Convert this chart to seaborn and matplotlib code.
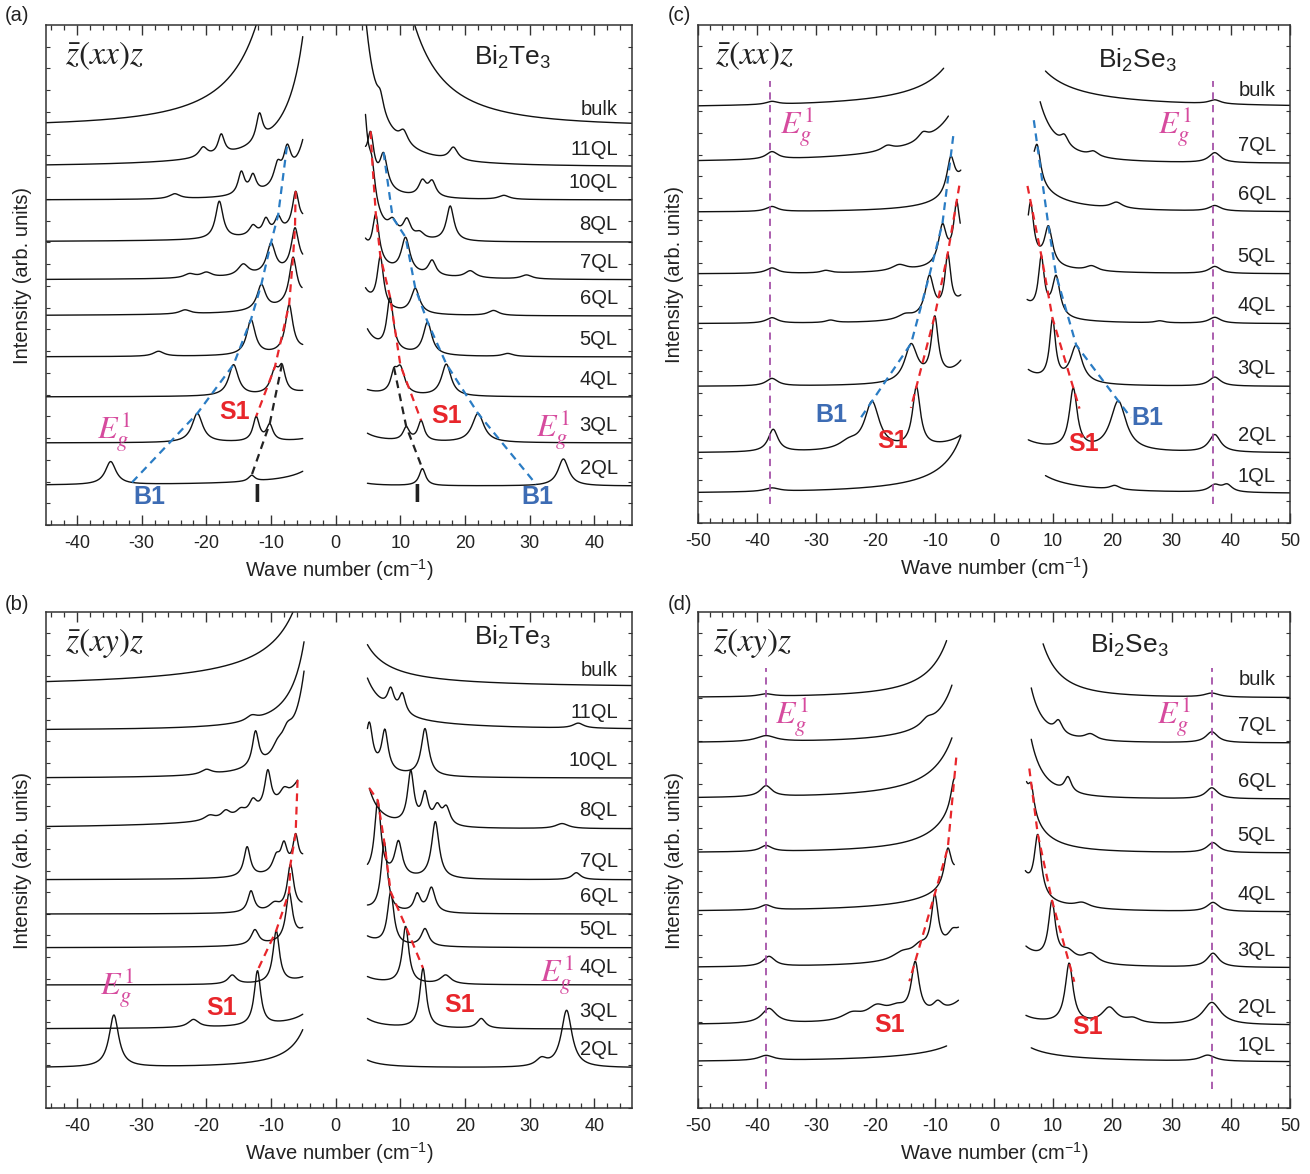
import numpy as np
import pandas as pd
import matplotlib
matplotlib.use("Agg")
import matplotlib.pyplot as plt
import seaborn as sns
from matplotlib.ticker import MultipleLocator

sns.set_theme(style="ticks")
plt.rcParams["font.family"] = ["Liberation Sans", "DejaVu Sans"]
plt.rcParams["axes.unicode_minus"] = False

# ---------------- panel (a): Bi2Te3, z(xx)z ----------------
A_LABELS = ["bulk", "11QL", "10QL", "8QL", "7QL", "6QL", "5QL", "4QL", "3QL", "2QL"]
A_OFFSETS = [79.6, 71.6, 65.0, 56.6, 49.0, 41.8, 33.6, 25.6, 16.4, 7.8]
A_LEFT_END = [-5.2, -5.1, -5.1, -5.1, -5.1, -5.2, -5.1, -5.1, -5.1, -5.1]
A_RIGHT_START = [4.8, 4.6, 4.6, 4.6, 4.6, 4.6, 4.9, 4.9, 4.9, 4.9]
# Rayleigh tail (height at |x|=5, power) for each side
A_TAIL_L = [(185, 2.45), (27, 1.9), (12, 2.5), (4, 1.5), (3, 1.5), (4, 1.5), (1.5, 1.5), (1, 1.5), (0.8, 1.5), (3, 1.2)]
A_TAIL_R = [(190, 2.5), (25, 2.2), (6, 2.5), (17, 4), (6, 2), (4, 2.5), (5, 2.5), (1.2, 2), (1.8, 2), (0.5, 2)]
# peaks: (position, height, half width)
A_PEAKS = [
    [],
    [(-20.5, 2, 0.8), (-17.7, 4, 0.6), (-11.8, 5.5, 0.6), (6.9, 3, 0.6), (10.5, 2.5, 0.8), (18.2, 2.5, 0.8)],
    [(-24.9, 1, 1), (-14.6, 4.5, 0.6), (-12.8, 3.5, 0.6), (-9.0, 4, 0.7), (-7.5, 6, 0.7),
     (5.4, 8, 0.6), (7.4, 6.5, 0.7), (13.4, 3, 0.7), (14.9, 3, 0.7), (26.0, 0.8, 1)],
    [(-18.0, 7.5, 0.7), (-12.8, 2, 0.7), (-10.8, 3, 0.6), (-8.9, 3, 0.6), (-6.2, 7, 0.6),
     (5.6, 6, 0.6), (8.8, 2.5, 0.8), (11.0, 3.5, 0.7), (13.0, 1.2, 0.8), (17.7, 7, 0.7)],
    [(-22.6, 0.8, 1), (-20.0, 1, 1), (-14.3, 2.3, 1), (-10.0, 6, 0.8), (-6.3, 8, 0.7),
     (6.2, 9, 0.6), (10.8, 7, 0.8), (14.9, 3, 0.7), (20.8, 1.4, 1), (29.5, 0.8, 1)],
    [(-23.3, 0.8, 1), (-11.5, 5, 0.8), (-6.6, 9, 0.7), (6.9, 10, 0.6), (12.3, 5, 0.8), (24.4, 1, 1)],
    [(-27.4, 1, 1), (-13.1, 7, 0.8), (-7.2, 9.5, 0.7), (8.4, 10.5, 0.6), (14.2, 6.5, 0.8), (26.6, 0.6, 1)],
    [(-15.8, 6.2, 0.9), (-9.4, 4.5, 0.8), (-8.3, 4.5, 0.6), (9.0, 3.5, 0.6), (10.0, 5, 0.8), (17.1, 6.4, 0.9)],
    [(-21.4, 5.8, 1.0), (-12.3, 4.8, 0.6), (-10.2, 3.2, 0.6), (10.9, 2.6, 0.6), (13.2, 4, 0.6), (22.0, 5.8, 1.1)],
    [(-34.8, 4.6, 1.0), (-13.0, 1.2, 0.6), (13.4, 3.4, 0.6), (35.2, 5.4, 1.0)],
]
# guide lines: (curve index, wave number)
A_B1_LEFT = [(9, -31.5), (8, -21.4), (7, -15.8), (6, -13.1), (5, -11.5), (4, -10.0), (3, -8.9), (2, -7.5)]
A_B1_RIGHT = [(2, 7.4), (3, 8.8), (4, 10.8), (5, 12.3), (6, 14.2), (7, 17.1), (8, 22.0), (9, 31.0)]
A_S1_LEFT = [(3, -6.2), (4, -6.3), (5, -6.6), (6, -7.2), (7, -9.4), (8, -12.3)]
A_S1_RIGHT = [(2, 5.4), (3, 5.6), (4, 6.2), (5, 6.9), (6, 8.4), (7, 10.0), (8, 13.2)]
A_I_LEFT = [(7, -8.3), (8, -10.2), (9, -13.0)]
A_I_RIGHT = [(7, 9.0), (8, 10.9), (9, 13.4)]

# ---------------- panel (b): Bi2Te3, z(xy)z ----------------
B_LABELS = ["bulk", "11QL", "10QL", "8QL", "7QL", "6QL", "5QL", "4QL", "3QL", "2QL"]
B_OFFSETS = [84.7, 76.2, 66.5, 56.3, 46.0, 39.1, 32.3, 24.8, 15.9, 8.1]
B_LEFT_END = [-5.0, -4.9, -4.9, -5.9, -5.1, -5.2, -5.1, -5.1, -5.1, -5.1]
B_RIGHT_START = [4.9, 4.9, 4.9, 5.2, 4.9, 4.9, 4.9, 4.9, 4.9, 4.9]
B_TAIL_L = [(22, 1.3), (17, 2.2), (20, 2.4), (12, 1.5), (4, 2), (1.5, 2), (3.5, 2), (1.5, 2), (3, 1.5), (8, 2)]
B_TAIL_R = [(8.5, 1.3), (10, 1.6), (3, 2), (9, 3), (1, 2), (1, 2), (2, 2), (1.5, 2), (2, 2), (1.5, 2)]
B_PEAKS = [
    [],
    [(-13.0, 1, 1), (8.5, 4, 0.6), (10.3, 4, 0.6), (37.5, 1, 1)],
    [(-20.0, 1, 1), (-12.4, 7, 0.6), (-9.0, 2, 1), (-7.5, 3, 1), (5.2, 8, 0.6), (7.6, 8, 0.6), (13.8, 9.5, 0.7)],
    [(-19.5, 1, 1), (-17.0, 1.5, 0.8), (-14.7, 1.2, 0.8), (-12.8, 2.5, 0.7), (-10.5, 7.5, 0.6), (-8.0, 2, 0.8),
     (11.6, 10.5, 0.6), (13.8, 6, 0.6), (15.7, 3.5, 0.7), (17.1, 3.5, 0.7), (35.0, 1, 1.2)],
    [(-13.7, 6, 0.6), (-9.2, 3, 0.7), (-8.0, 5, 0.6), (-6.2, 6, 0.5),
     (6.5, 15, 0.6), (9.7, 7, 0.7), (15.4, 11.5, 0.7), (37.2, 1.4, 0.8)],
    [(-13.1, 4.3, 0.6), (-9.5, 1.5, 1), (-7.0, 9, 0.6), (7.5, 14, 0.6), (12.6, 3.5, 0.6), (14.8, 5, 0.7)],
    [(-12.5, 3, 0.7), (-7.2, 9.5, 0.6), (8.5, 10.5, 0.6), (13.8, 3.5, 0.7)],
    [(-16.0, 1.8, 0.8), (-9.2, 10.5, 0.6), (10.8, 11.5, 0.6), (17.0, 1.8, 1)],
    [(-22.0, 1.6, 1), (-12.1, 11, 0.6), (13.5, 12, 0.6), (22.5, 2, 0.8)],
    [(-34.3, 10.5, 0.9), (31.8, 1.5, 1), (35.7, 11.5, 1.0)],
]
B_S1_LEFT = [(3, -5.9), (4, -6.2), (5, -7.0), (6, -7.2), (7, -9.2), (8, -12.1)]
B_S1_RIGHT = [(3, 5.2), (4, 6.5), (5, 7.5), (6, 8.5), (7, 10.8), (8, 13.5)]

# ---------------- panel (c): Bi2Se3, z(xx)z ----------------
C_LABELS = ["bulk", "7QL", "6QL", "5QL", "4QL", "3QL", "2QL", "1QL"]
C_OFFSETS = [83.2, 72.2, 62.4, 50.0, 40.0, 27.4, 14.0, 5.8]
C_LEFT_END = [-8.5, -7.7, -5.6, -5.7, -5.6, -5.6, -5.6, -5.6]
C_RIGHT_START = [8.7, 7.8, 6.8, 5.8, 5.6, 5.8, 5.8, 8.7]
C_TAIL_L = [(18, 1.5), (18, 1.5), (9, 2), (6, 2), (6, 2), (6, 2), (4, 1.5), (14, 1.6)]
C_TAIL_R = [(16.4, 1.4), (42, 2.76), (14, 2), (6, 2), (5, 2), (4, 2), (3, 1.5), (9, 1.6)]
C_PEAKS = [
    [(-37.5, 0.6, 1.2), (37.3, 0.8, 1.2)],
    [(-37.5, 1.5, 1.2), (-18.0, 1, 1.2), (-12.0, 1.5, 1), (11.9, 2, 0.8), (16.8, 1, 1), (37.3, 2, 1.2)],
    [(-37.5, 1, 1.2), (-7.3, 7, 0.8), (7.3, 7, 0.7), (20.7, 1.2, 1.2), (37.3, 1.1, 1.2)],
    [(-37.5, 1.1, 1.2), (-28.4, 0.5, 1), (-16.0, 1.2, 1.5), (-8.7, 7.5, 0.8), (-6.3, 10, 0.6),
     (6.2, 10, 0.6), (9.2, 7.5, 0.8), (16.5, 1, 1.2), (37.3, 1.4, 1.2)],
    [(-37.5, 1.1, 1.2), (-27.6, 0.5, 1), (-15.0, 1, 1.5), (-10.9, 8, 0.9), (-7.8, 11, 0.6),
     (8.0, 11, 0.6), (10.5, 8, 0.8), (28.0, 0.4, 1), (37.3, 1.2, 1.2)],
    [(-37.5, 1.5, 1.2), (-14.0, 7.5, 1.3), (-10.0, 12, 0.7), (9.9, 12, 0.6), (13.9, 7.5, 1.2), (37.3, 1.8, 1.2)],
    [(-37.3, 4.5, 1.0), (-24.5, 1.5, 2), (-20.6, 9.5, 1.5), (-13.1, 12, 0.8),
     (13.4, 12, 0.8), (21.0, 10, 1.6), (37.3, 3.5, 1.2)],
    [(-37.5, 0.7, 1.5), (20.4, 0.8, 1), (37.3, 1.4, 1.2), (39.4, 1.4, 1)],
]
C_B1_LEFT = [(2, -7.3), (3, -8.7), (4, -10.9), (5, -14.0), (6, -20.6)]
C_B1_RIGHT = [(2, 7.3), (3, 9.2), (4, 10.5), (5, 13.9), (6, 21.0)]
C_S1_LEFT = [(3, -6.3), (4, -7.8), (5, -10.0), (6, -13.1)]
C_S1_RIGHT = [(3, 6.2), (4, 8.0), (5, 9.9), (6, 13.4)]
C_EG_LINES = [-37.8, 37.0]

# ---------------- panel (d): Bi2Se3, z(xy)z ----------------
D_LABELS = ["bulk", "7QL", "6QL", "5QL", "4QL", "3QL", "2QL", "1QL"]
D_OFFSETS = [82.7, 73.6, 62.3, 51.4, 39.5, 28.2, 16.7, 9.1]
D_LEFT_END = [-8.0, -7.1, -7.1, -6.7, -6.7, -6.0, -6.0, -8.0]
D_RIGHT_START = [8.3, 6.3, 6.3, 5.5, 5.3, 5.4, 5.4, 6.3]
D_TAIL_L = [(34, 2.3), (25, 2.2), (24, 1.9), (20, 2), (12, 1.6), (9, 1.6), (6, 1.5), (6, 1.2)]
D_TAIL_R = [(45, 2.8), (22, 3), (24, 3), (16, 2.5), (8, 2), (4.5, 1.6), (2, 2), (4, 1.2)]
D_PEAKS = [
    [(-38.5, 0.5, 1.5), (36.8, 0.8, 1.5)],
    [(-38.5, 1.2, 2), (-11.3, 1.2, 1.2), (10.9, 2.5, 0.8), (16.3, 1.2, 1.2), (36.8, 2.2, 1.2)],
    [(-38.5, 2.2, 1.2), (12.5, 3, 0.7), (36.8, 2.2, 1.2)],
    [(-38.5, 1.2, 1.2), (-6.8, 4, 0.6), (6.3, 5, 0.6), (37.0, 2, 1.2)],
    [(-38.5, 1, 1.2), (-7.8, 7, 0.7), (7.4, 12, 0.7), (14.9, 1, 1.5), (37.0, 1.8, 1.2)],
    [(-38.0, 2, 1.2), (-15.5, 1.5, 2), (-12.5, 2, 1.5), (-10.0, 11, 0.7), (-7.0, 2, 1),
     (9.8, 11.5, 0.7), (12.5, 2, 1.5), (16.3, 2, 1.5), (37.0, 2.8, 1.2)],
    [(-38.0, 3, 1.5), (-24.0, 1.5, 2), (-19.8, 2.5, 2), (-16.4, 2, 2), (-13.3, 10.5, 0.8), (-9.5, 2, 1),
     (12.7, 12, 0.8), (19.5, 3.2, 1.5), (23.5, 1, 1.5), (36.8, 4.5, 1.8)],
    [(-38.5, 1, 1.5), (36.1, 1.2, 1.5)],
]
D_S1_LEFT = [(3, -6.7), (4, -7.8), (5, -10.0), (6, -13.3)]
D_S1_RIGHT = [(3, 6.3), (4, 7.4), (5, 9.8), (6, 12.7)]
D_EG_LINES = [-38.5, 36.8]

EG_COLOR = "#d64b9e"
EG_LINE_COLOR = "#a552a8"
BLUE = "#2a7cc4"
RED = "#e8262b"
B1_TEXT = "#3d6cb4"


def curve(x, off, tail, peaks):
    amp, pw = tail
    y = off + amp * (5.0 / np.abs(x)) ** pw
    for c, h, g in peaks:
        y = y + h * g ** 2 / ((x - c) ** 2 + g ** 2)
    return y


def build_traces(p):
    parts = []
    for i, lab in enumerate(p["labels"]):
        xl = np.linspace(p["xlim"][0], p["left_end"][i], 400)
        xr = np.linspace(p["right_start"][i], p["xlim"][1], 400)
        for side, xs, tail in (("L", xl, p["tail_l"][i]), ("R", xr, p["tail_r"][i])):
            ys = curve(xs, p["offsets"][i], tail, p["peaks"][i])
            parts.append(pd.DataFrame({"x": xs, "y": ys, "trace": f"{lab}-{side}"}))
    return pd.concat(parts, ignore_index=True)


def guide_xy(p, guide, ext):
    xs, ys = [], []
    for idx, xpos in guide:
        tail = p["tail_l"][idx] if xpos < 0 else p["tail_r"][idx]
        xs.append(xpos)
        ys.append(float(curve(np.array(xpos), p["offsets"][idx], tail, p["peaks"][idx])))
    xs, ys = np.array(xs), np.array(ys)
    if ext > 0:
        x0 = xs[0] + ext * (xs[0] - xs[1])
        y0 = ys[0] + ext * (ys[0] - ys[1])
        x1 = xs[-1] + ext * (xs[-1] - xs[-2])
        y1 = ys[-1] + ext * (ys[-1] - ys[-2])
        xs = np.concatenate([[x0], xs, [x1]])
        ys = np.concatenate([[y0], ys, [y1]])
    return xs, ys


PANELS = {
    "a": dict(labels=A_LABELS, offsets=A_OFFSETS, left_end=A_LEFT_END, right_start=A_RIGHT_START,
              tail_l=A_TAIL_L, tail_r=A_TAIL_R, peaks=A_PEAKS, xlim=(-44.8, 45.8),
              guides=[(A_B1_LEFT, BLUE), (A_B1_RIGHT, BLUE), (A_S1_LEFT, RED), (A_S1_RIGHT, RED),
                      (A_I_LEFT, "#222222"), (A_I_RIGHT, "#222222")],
              ext=0.0, eg_lines=[], rect=[0.0351, 0.5528, 0.4473, 0.4259]),
    "b": dict(labels=B_LABELS, offsets=B_OFFSETS, left_end=B_LEFT_END, right_start=B_RIGHT_START,
              tail_l=B_TAIL_L, tail_r=B_TAIL_R, peaks=B_PEAKS, xlim=(-44.8, 45.8),
              guides=[(B_S1_LEFT, RED), (B_S1_RIGHT, RED)],
              ext=0.0, eg_lines=[], rect=[0.0351, 0.0562, 0.4473, 0.4225]),
    "c": dict(labels=C_LABELS, offsets=C_OFFSETS, left_end=C_LEFT_END, right_start=C_RIGHT_START,
              tail_l=C_TAIL_L, tail_r=C_TAIL_R, peaks=C_PEAKS, xlim=(-50, 50),
              guides=[(C_B1_LEFT, BLUE), (C_B1_RIGHT, BLUE), (C_S1_LEFT, RED), (C_S1_RIGHT, RED)],
              ext=0.3, eg_lines=C_EG_LINES, rect=[0.5328, 0.5545, 0.4519, 0.4242]),
    "d": dict(labels=D_LABELS, offsets=D_OFFSETS, left_end=D_LEFT_END, right_start=D_RIGHT_START,
              tail_l=D_TAIL_L, tail_r=D_TAIL_R, peaks=D_PEAKS, xlim=(-50, 50),
              guides=[(D_S1_LEFT, RED), (D_S1_RIGHT, RED)],
              ext=0.3, eg_lines=D_EG_LINES, rect=[0.5328, 0.0562, 0.4519, 0.4225]),
}

fig = plt.figure(figsize=(13.1, 11.74), dpi=100)
axes = {}
for key, p in PANELS.items():
    ax = fig.add_axes(p["rect"])
    axes[key] = ax
    df = build_traces(p)
    sns.lineplot(data=df, x="x", y="y", units="trace", estimator=None, sort=False,
                 color="#111111", lw=1.0, legend=False, ax=ax)
    for guide, col in p["guides"]:
        gx, gy = guide_xy(p, guide, p["ext"])
        ax.plot(gx, gy, ls=(0, (3.5, 2.5)), color=col, lw=1.6, zorder=3)
    for xv in p["eg_lines"]:
        ax.plot([xv, xv], [3.8, 88.8], ls=(0, (4, 3)), color=EG_LINE_COLOR, lw=1.3, zorder=3)

    ax.set_xlim(*p["xlim"])
    ax.set_ylim(0, 100)
    ax.xaxis.set_major_locator(MultipleLocator(10))
    ax.xaxis.set_minor_locator(MultipleLocator(2))
    ax.yaxis.set_major_locator(MultipleLocator(4.35))
    ax.tick_params(which="both", direction="in", top=True, right=True, colors="#333333",
                   labelcolor="#222222", labelsize=13, pad=7)
    ax.tick_params(axis="x", which="major", length=7, width=1.0)
    ax.tick_params(axis="x", which="minor", length=3.5, width=0.9)
    ax.tick_params(axis="y", which="major", length=3, width=0.8, labelleft=False)
    for s in ax.spines.values():
        s.set_color("#333333")
        s.set_linewidth(1.1)
    ax.set_xlabel(r"Wave number (cm$^{\mathregular{-1}}$)", fontsize=14.5, color="#222222", labelpad=4)
    ax.set_ylabel("Intensity (arb. units)", fontsize=14.5, color="#222222", labelpad=10)

    lab_x = 43.6 if key in "ab" else 47.6
    for lab, off in zip(p["labels"], p["offsets"]):
        ax.text(lab_x, off + 3.6, lab, ha="right", va="center", fontsize=14.5, color="#222222")

# polarisation / material headers
pol = {"a": ("xx", -41.8), "b": ("xy", -41.8), "c": ("xx", -47.1), "d": ("xy", -47.5)}
mat = {"a": ("Bi$_\\mathregular{2}$Te$_\\mathregular{3}$", 27.4, 93.6),
       "b": ("Bi$_\\mathregular{2}$Te$_\\mathregular{3}$", 27.4, 95.0),
       "c": ("Bi$_\\mathregular{2}$Se$_\\mathregular{3}$", 24.2, 93.0),
       "d": ("Bi$_\\mathregular{2}$Se$_\\mathregular{3}$", 22.9, 93.3)}
for key, ax in axes.items():
    pp, px = pol[key]
    ax.text(px, 93.8, r"$\bar{z}(%s)z$" % pp, math_fontfamily="stix", fontsize=24,
            ha="left", va="center", color="#222222")
    mt, mx, my = mat[key]
    ax.text(mx, my, mt, fontsize=19, ha="center", va="center", color="#222222")


def eg(ax, x, y):
    ax.text(x, y, r"$E_g^1$", math_fontfamily="stix", fontsize=23, color=EG_COLOR, ha="center", va="center")


def tag(ax, x, y, s, col):
    ax.text(x, y, s, fontsize=18, fontweight="bold", color=col, ha="center", va="center")


ax = axes["a"]
eg(ax, -34.3, 18.6); eg(ax, 33.5, 19.0)
tag(ax, -15.7, 22.6, "S1", RED); tag(ax, 17.2, 21.8, "S1", RED)
tag(ax, -28.8, 5.6, "B1", B1_TEXT); tag(ax, 31.2, 5.6, "B1", B1_TEXT)
tag(ax, -12.2, 6.0, "I", "#222222"); tag(ax, 12.6, 6.0, "I", "#222222")

ax = axes["b"]
eg(ax, -33.8, 24.2); eg(ax, 34.2, 26.8)
tag(ax, -17.7, 20.2, "S1", RED); tag(ax, 19.2, 20.8, "S1", RED)

ax = axes["c"]
eg(ax, -33.3, 79.5); eg(ax, 30.6, 79.5)
tag(ax, -27.4, 21.7, "B1", B1_TEXT); tag(ax, 25.9, 21.1, "B1", B1_TEXT)
tag(ax, -17.1, 16.5, "S1", RED); tag(ax, 15.1, 15.9, "S1", RED)

ax = axes["d"]
eg(ax, -34.2, 79.0); eg(ax, 30.4, 79.0)
tag(ax, -17.6, 16.7, "S1", RED); tag(ax, 15.9, 16.3, "S1", RED)

for s, x, y in (("(a)", 0.004, 0.987), ("(c)", 0.510, 0.987), ("(b)", 0.004, 0.485), ("(d)", 0.510, 0.485)):
    fig.text(x, y, s, fontsize=14.5, color="#222222", ha="left", va="center")

fig.savefig("out.png", dpi=100)
